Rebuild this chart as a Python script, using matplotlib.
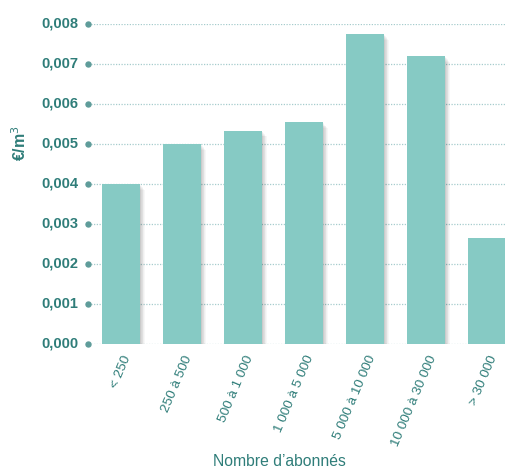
import matplotlib
matplotlib.use("Agg")
import matplotlib.pyplot as plt
from matplotlib.transforms import blended_transform_factory, offset_copy

categories = ["< 250", "250 à 500", "500 à 1 000", "1 000 à 5 000",
              "5 000 à 10 000", "10 000 à 30 000", "> 30 000"]
values = [0.0040, 0.0050, 0.00533, 0.00554, 0.00775, 0.0072, 0.00266]
yticks = [0.000, 0.001, 0.002, 0.003, 0.004, 0.005, 0.006, 0.007, 0.008]
ytick_labels = ["0,000", "0,001", "0,002", "0,003", "0,004",
                "0,005", "0,006", "0,007", "0,008"]

plt.rcParams["font.family"] = ["Liberation Sans", "DejaVu Sans"]

bar_color = "#86cac4"
text_color = "#2f7d79"
grid_color = "#a6cccd"
dot_color = "#5f9c9a"

fig = plt.figure(figsize=(5.05, 4.70), dpi=100)
W, H = 505, 470
left, right, bottom, top = 88, 505, 344, 24
ax = fig.add_axes([left / W, 1 - bottom / H, (right - left) / W, (bottom - top) / H])

x = list(range(len(categories)))
width = 0.62

# soft drop shadow on the right of each bar
for k in range(1, 8):
    ax.bar([xi + 0.011 * k for xi in x], [v - 0.00002 * k for v in values],
           width=width, color="#000000", alpha=0.03, zorder=1, linewidth=0)
ax.bar(x, values, width=width, color=bar_color, zorder=3, linewidth=0)

ax.set_ylim(0, 0.008)
ax.set_xlim(-0.54, 6.295)

# dotted horizontal grid
for yv in yticks:
    ax.axhline(yv, color=grid_color, linestyle=(0, (1, 1.2)), linewidth=0.9, zorder=0)

for s in ax.spines.values():
    s.set_visible(False)
ax.set_xticks([])
ax.set_yticks([])

# dot tick marks and value labels on the left
tr = blended_transform_factory(ax.transAxes, ax.transData)
ax.plot([0] * len(yticks), yticks, "o", color=dot_color, markersize=3.6,
        transform=tr, clip_on=False, zorder=4)
lab_tr = offset_copy(tr, fig=fig, x=-10, y=0, units="dots")
for yv, lab in zip(yticks, ytick_labels):
    ax.text(0, yv, lab, transform=lab_tr, ha="right", va="center",
            fontsize=10.5, fontweight="bold", color=text_color)

# rotated category labels
xtr = blended_transform_factory(ax.transData, ax.transAxes)
xlab_tr = offset_copy(xtr, fig=fig, x=7, y=-12, units="dots")
for xi, lab in zip(x, categories):
    ax.text(xi, 0, lab, transform=xlab_tr, rotation=67, rotation_mode="anchor",
            ha="right", va="center", fontsize=9.7, color=text_color)

fig.text(279 / W, 1 - 461 / H, "Nombre d\u2019abonnés", ha="center", va="center",
         fontsize=11.3, color=text_color)
fig.text(20 / W, 1 - 143 / H, "€/m$^3$", ha="center", va="center", rotation=90,
         fontsize=11.5, fontweight="bold", color=text_color)

fig.savefig("out.png", dpi=100)
